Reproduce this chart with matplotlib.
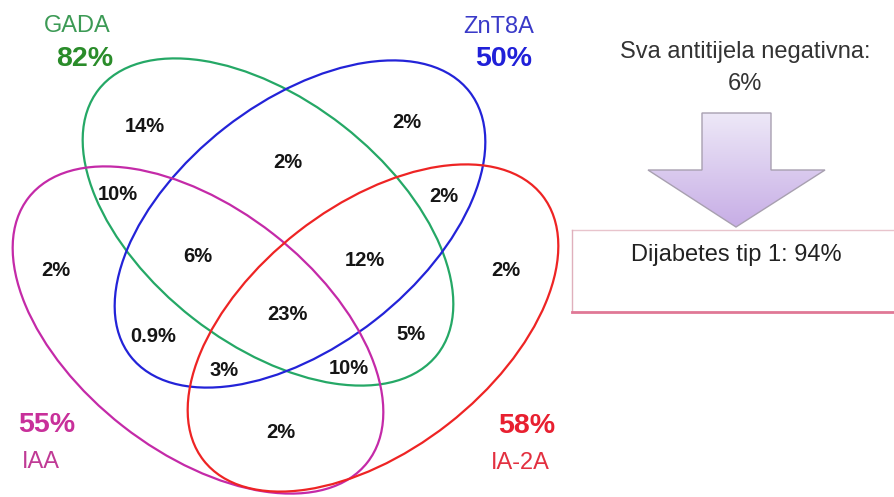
import matplotlib
matplotlib.use("Agg")
import matplotlib.pyplot as plt
import numpy as np
from matplotlib.patches import Ellipse, Polygon

plt.rcParams['font.family'] = ['Liberation Sans', 'DejaVu Sans']

# ---- data ----
sets = ["GADA", "ZnT8A", "IAA", "IA-2A"]
set_pct = ["82%", "50%", "55%", "58%"]
region_vals = ["14%", "2%", "2%", "10%", "2%", "6%", "12%", "2%", "2%",
               "23%", "0.9%", "5%", "3%", "10%", "2%"]
negative_label = "Sva antitijela negativna:"
negative_pct = "6%"
t1d_label = "Dijabetes tip 1: 94%"

# ---- layout / style ----
ell_centers = [(268, 222), (300, 224), (198, 330), (373, 328)]
ell_angles = [38, -38, 38, -38]
ell_a, ell_b = 430, 244
ell_colors = ['#25a866', '#2323d8', '#c42aa8', '#ee2424']
name_pos = [(77, 26), (499, 27), (41, 462), (520, 463)]
pct_pos = [(85, 59), (504, 59), (47, 425), (527, 426)]
name_colors = ['#3c9a55', '#3a3ac8', '#c03a95', '#e33040']
pct_colors = ['#2a8c2a', '#2020d8', '#c8309a', '#e82030']
region_pos = [(145, 126), (288, 162), (407, 122), (118, 195), (444, 196),
              (198, 256), (365, 260), (56, 270), (506, 271), (287, 315),
              (153, 336), (411, 335), (224, 370), (349, 369), (281, 432)]

fig = plt.figure(figsize=(8.94, 4.97), dpi=100)
ax = fig.add_axes([0, 0, 1, 1])
ax.set_xlim(0, 894)
ax.set_ylim(497, 0)
ax.set_aspect('equal')
ax.axis('off')

for c, ang, col in zip(ell_centers, ell_angles, ell_colors):
    ax.add_patch(Ellipse(c, ell_a, ell_b, angle=ang, fill=False,
                         edgecolor=col, lw=1.6))

for name, p, col in zip(sets, name_pos, name_colors):
    ax.text(p[0], p[1], name, color=col, fontsize=17, ha='center', va='center')
for pct, p, col in zip(set_pct, pct_pos, pct_colors):
    ax.text(p[0], p[1], pct, color=col, fontsize=20.5, fontweight='bold',
            ha='center', va='center')

for v, p in zip(region_vals, region_pos):
    ax.text(p[0], p[1], v, color='#151515', fontsize=14.5, fontweight='bold',
            ha='center', va='center')

# right side
ax.text(745, 52, negative_label, color='#333333', fontsize=17,
        ha='center', va='center')
ax.text(745, 84, negative_pct, color='#333333', fontsize=17,
        ha='center', va='center')

arrow_pts = [(702, 113), (771, 113), (771, 170), (825, 170), (736, 227),
             (648, 170), (702, 170)]
poly = Polygon(arrow_pts, closed=True, facecolor='none', edgecolor='#a8a0b0',
               lw=1.0, zorder=3)
ax.add_patch(poly)
grad = np.linspace(0, 1, 256).reshape(-1, 1)
top = np.array([0.93, 0.91, 0.97])
bot = np.array([0.78, 0.68, 0.90])
img = top + (bot - top) * grad[..., None]
img = img.repeat(2, axis=1)
im = ax.imshow(img, extent=[648, 825, 227, 113], origin='upper',
               aspect='auto', zorder=2)
im.set_clip_path(poly)

ax.plot([572, 894], [230, 230], color='#e8c4cc', lw=1.0)
ax.plot([572, 572], [230, 312], color='#e0b0bc', lw=1.0)
ax.plot([572, 894], [312, 312], color='#e07896', lw=2.0)
ax.text(736, 255, t1d_label, color='#222222', fontsize=17,
        ha='center', va='center')

fig.savefig('out.png', dpi=100)
